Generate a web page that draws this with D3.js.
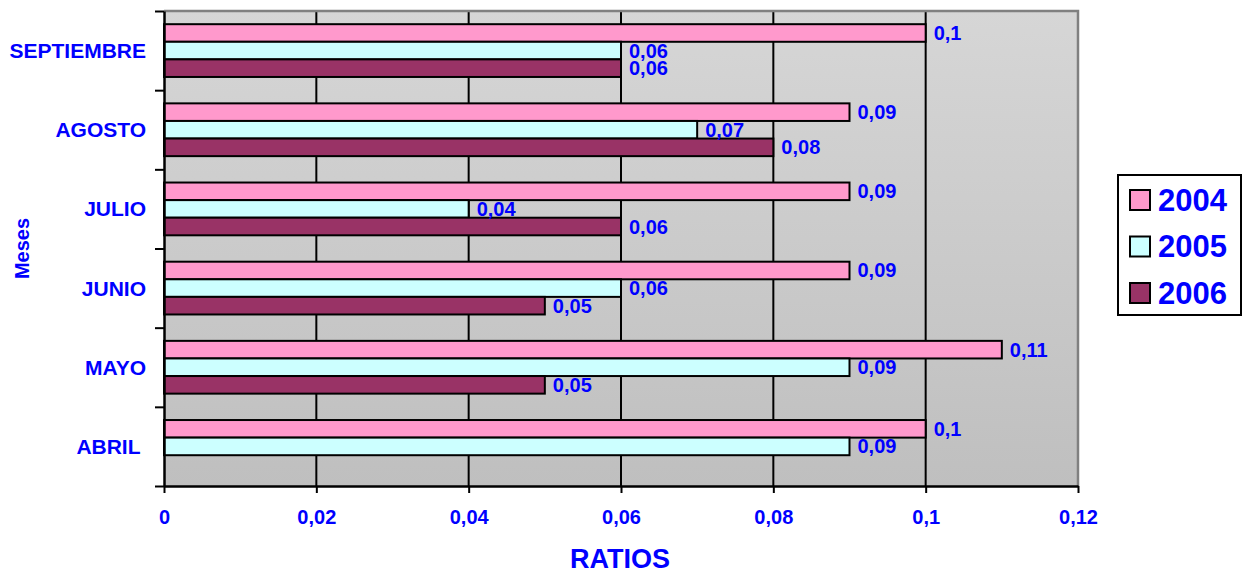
<!DOCTYPE html>
<html>
<head>
<meta charset="utf-8">
<script src="https://cdn.jsdelivr.net/npm/d3@7"></script>
<style>
  html, body { margin: 0; padding: 0; background: #ffffff; }
  svg { display: block; font-family: Arial, "Liberation Sans", sans-serif; font-weight: bold; }
</style>
</head>
<body>
<svg id="chart" width="1246" height="575"></svg>
<script>
// ---- data ----
const months = ["SEPTIEMBRE", "AGOSTO", "JULIO", "JUNIO", "MAYO", "ABRIL "];
const seriesNames = ["2004", "2005", "2006"];
const values2004 = [0.10, 0.09, 0.09, 0.09, 0.11, 0.10];
const values2005 = [0.06, 0.07, 0.04, 0.06, 0.09, 0.09];
const values2006 = [0.06, 0.08, 0.06, 0.05, 0.05, null];
const xTicks = [0, 0.02, 0.04, 0.06, 0.08, 0.10, 0.12];
const xTitle = "RATIOS";
const yTitle = "Meses";

const colors = { "2004": "#FF99CC", "2005": "#CCFFFF", "2006": "#993366" };
const textBlue = "#0000FF";

const svg = d3.select("#chart");
const plot = { left: 164, right: 1078, top: 11, bottom: 486 };

const x = d3.scaleLinear().domain([0, 0.12]).range([plot.left, plot.right]);
const y = d3.scaleBand().domain(months).range([plot.top, plot.bottom]).padding(0);
const y1 = d3.scaleBand().domain(seriesNames).range([0, y.bandwidth()]).paddingInner(0).paddingOuter(0.75);

const fmt = v => d3.format("~g")(+v.toFixed(4)).replace(".", ",");

// background gradient
const defs = svg.append("defs");
const grad = defs.append("linearGradient").attr("id", "bg").attr("x1", 0).attr("y1", 0).attr("x2", 0).attr("y2", 1);
grad.append("stop").attr("offset", "0%").attr("stop-color", "#d6d6d6");
grad.append("stop").attr("offset", "100%").attr("stop-color", "#bfbfbf");

svg.append("rect")
  .attr("x", plot.left).attr("y", plot.top)
  .attr("width", plot.right - plot.left).attr("height", plot.bottom - plot.top)
  .attr("fill", "url(#bg)");

// gridlines
svg.append("g").selectAll("line")
  .data(xTicks.filter(t => t > 0 && t < 0.12))
  .join("line")
  .attr("x1", d => x(d)).attr("x2", d => x(d))
  .attr("y1", plot.top).attr("y2", plot.bottom)
  .attr("stroke", "#000").attr("stroke-width", 2);

// plot border top/right (gray)
svg.append("path")
  .attr("d", `M${plot.left},${plot.top}H${plot.right}V${plot.bottom}`)
  .attr("fill", "none").attr("stroke", "#808080").attr("stroke-width", 2.5);

// bars
const rows = months.map((m, i) => ({
  month: m,
  vals: [
    { s: "2004", v: values2004[i] },
    { s: "2005", v: values2005[i] },
    { s: "2006", v: values2006[i] }
  ].filter(d => d.v != null)
}));

const groups = svg.append("g").selectAll("g")
  .data(rows).join("g")
  .attr("transform", d => `translate(0,${y(d.month)})`);

groups.selectAll("rect")
  .data(d => d.vals).join("rect")
  .attr("x", x(0))
  .attr("y", d => y1(d.s))
  .attr("width", d => x(d.v) - x(0))
  .attr("height", y1.bandwidth())
  .attr("fill", d => colors[d.s])
  .attr("stroke", "#000").attr("stroke-width", 2);

groups.selectAll("text")
  .data(d => d.vals).join("text")
  .attr("x", d => x(d.v) + 8)
  .attr("y", d => y1(d.s) + y1.bandwidth() / 2)
  .attr("dominant-baseline", "central")
  .attr("fill", textBlue)
  .attr("font-size", 20)
  .text(d => fmt(d.v));

// x axis
const xAxis = svg.append("g")
  .attr("transform", `translate(0,${plot.bottom})`)
  .call(d3.axisBottom(x).tickValues(xTicks).tickFormat(fmt).tickSize(7).tickSizeOuter(0).tickPadding(17));
xAxis.select(".domain").attr("stroke", "#000").attr("stroke-width", 2.5);
xAxis.selectAll(".tick line").attr("stroke", "#000").attr("stroke-width", 2);
xAxis.selectAll(".tick text")
  .attr("fill", textBlue).attr("font-size", 20).attr("font-weight", "bold")
  .attr("font-family", "Arial, 'Liberation Sans', sans-serif");

// y axis boundary ticks
const boundaries = d3.range(months.length + 1);
const yb = d3.scaleLinear().domain([0, months.length]).range([plot.top, plot.bottom]);
const yAxisTicks = svg.append("g")
  .attr("transform", `translate(${plot.left},0)`)
  .call(d3.axisLeft(yb).tickValues(boundaries).tickFormat("").tickSize(9).tickSizeOuter(0));
yAxisTicks.select(".domain").attr("stroke", "#000").attr("stroke-width", 2.5);
yAxisTicks.selectAll(".tick line").attr("stroke", "#000").attr("stroke-width", 2);

// y axis category labels
const yAxisLabels = svg.append("g")
  .attr("transform", `translate(${plot.left},0)`)
  .call(d3.axisLeft(y).tickSize(0).tickPadding(18));
yAxisLabels.select(".domain").remove();
yAxisLabels.selectAll(".tick text")
  .attr("fill", textBlue).attr("font-size", 21).attr("font-weight", "bold")
  .attr("font-family", "Arial, 'Liberation Sans', sans-serif")
  .attr("dy", null).attr("dominant-baseline", "central")
  .style("white-space", "pre");

// axis titles
svg.append("text")
  .attr("x", (plot.left + plot.right) / 2 - 1)
  .attr("y", 568)
  .attr("text-anchor", "middle")
  .attr("fill", textBlue).attr("font-size", 27)
  .text(xTitle);

svg.append("text")
  .attr("transform", `translate(29,${(plot.top + plot.bottom) / 2}) rotate(-90)`)
  .attr("text-anchor", "middle")
  .attr("fill", textBlue).attr("font-size", 20)
  .text(yTitle);

// legend
const legend = svg.append("g");
legend.append("rect")
  .attr("x", 1118).attr("y", 175).attr("width", 123).attr("height", 140)
  .attr("fill", "#fff").attr("stroke", "#000").attr("stroke-width", 2);
const legendY = d3.scalePoint().domain(seriesNames).range([200, 293]);
const li = legend.selectAll("g.item").data(seriesNames).join("g").attr("class", "item")
  .attr("transform", d => `translate(0,${legendY(d)})`);
li.append("rect")
  .attr("x", 1130).attr("y", -10).attr("width", 20).attr("height", 20)
  .attr("fill", d => colors[d]).attr("stroke", "#000").attr("stroke-width", 2);
li.append("text")
  .attr("x", 1158).attr("y", 0)
  .attr("dominant-baseline", "central")
  .attr("fill", textBlue).attr("font-size", 31)
  .text(d => d);
</script>
</body>
</html>
